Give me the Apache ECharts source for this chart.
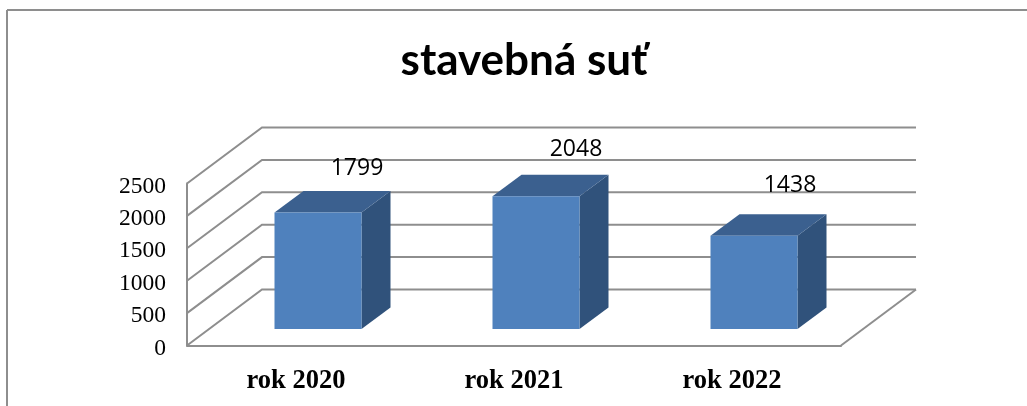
<!DOCTYPE html>
<html><head><meta charset="utf-8">
<style>html,body{margin:0;padding:0;background:#fff}#c{width:1027px;height:406px}</style>
<script src="https://cdn.jsdelivr.net/npm/echarts@6/dist/echarts.min.js"></script>
</head><body><div id="c"></div>
<script>
var titleText = 'stavebná suť';
var categories = ['rok 2020', 'rok 2021', 'rok 2022'];
var values = [1799, 2048, 1438];
var yTicks = [0, 500, 1000, 1500, 2000, 2500];

// label nudges relative to the bar's top front centre (manual placement in the source)
var labelNudge = [[39, -44], [40, -47], [36, -50]];
var wallDepth = [75, -56];
var barDepth = [29, -21.5];
var barShift = [22, -16.5];
var barWidthPx = 87;
var gridColor = '#8e8e8e';

var chart = echarts.init(document.getElementById('c'));
function line(pts, w) {
  return { type: 'polyline', shape: { points: pts }, style: { stroke: gridColor, lineWidth: w || 2, fill: null } };
}
function renderWall(params, api) {
  var v = api.value(0);
  var p = api.coord([0, v]);
  var cs = params.coordSys;
  var x0 = cs.x, x1 = cs.x + cs.width;
  var y = p[1];
  var kids = [line([[x0, y], [x0 + wallDepth[0], y + wallDepth[1]], [x1 + wallDepth[0], y + wallDepth[1]]])];
  if (v === 0) {
    kids.push(line([[x1, y], [x1 + wallDepth[0], y + wallDepth[1]]]));
  }
  return { type: 'group', children: kids };
}
function renderBar(params, api) {
  var i = api.value(0);
  var top = api.coord([i, api.value(1)]);
  var base = api.coord([i, 0]);
  var xl = top[0] - barWidthPx / 2 + barShift[0];
  var xr = xl + barWidthPx;
  var yt = top[1] + barShift[1];
  var yb = base[1] + barShift[1];
  var dx = barDepth[0], dy = barDepth[1];
  var n = labelNudge[i];
  return { type: 'group', children: [
    { type: 'polygon', shape: { points: [[xr, yt], [xr + dx, yt + dy], [xr + dx, yb + dy], [xr, yb]] }, style: { fill: '#30527b' } },
    { type: 'polygon', shape: { points: [[xl, yt], [xl + dx, yt + dy], [xr + dx, yt + dy], [xr, yt]] }, style: { fill: '#3b608f' } },
    { type: 'rect', shape: { x: xl, y: yt, width: barWidthPx, height: yb - yt }, style: { fill: '#4f81bd' } },
    { type: 'text', style: { text: String(api.value(1)), x: (xl + xr) / 2 + n[0], y: yt + n[1], align: 'center', verticalAlign: 'middle', fill: '#000', font: '23px "Open Sans"' } }
  ] };
}
chart.setOption({
  animation: false,
  backgroundColor: '#fff',
  title: { text: titleText, left: 519, top: 34, textAlign: 'center', textStyle: { fontFamily: 'Lato', fontWeight: 'bold', fontSize: 44, color: '#000' } },
  grid: { left: 187, top: 183.5, width: 654, height: 162, containLabel: false },
  xAxis: { type: 'category', data: categories, axisTick: { show: false },
    axisLine: { show: true, lineStyle: { color: gridColor, width: 2 } },
    axisLabel: { margin: 22, fontFamily: 'Liberation Serif', fontWeight: 'bold', fontSize: 26.5, color: '#000' } },
  yAxis: { type: 'value', min: 0, max: 2500, interval: 500, splitLine: { show: false }, axisTick: { show: false },
    axisLine: { show: true, lineStyle: { color: gridColor, width: 2 } },
    axisLabel: { margin: 21, formatter: function (v) { return '{a|' + v + '}'; }, fontFamily: 'Liberation Serif', fontSize: 23.5, color: '#000',
      rich: { a: { fontFamily: 'Liberation Serif', fontSize: 23.5, color: '#000', padding: [6, 0, 0, 0] } } } },
  graphic: [
    { type: 'line', shape: { x1: 7, y1: 10, x2: 1027, y2: 10 }, style: { stroke: gridColor, lineWidth: 2 }, silent: true },
    { type: 'line', shape: { x1: 7, y1: 10, x2: 7, y2: 406 }, style: { stroke: gridColor, lineWidth: 2 }, silent: true }
  ],
  series: [
    { type: 'custom', coordinateSystem: 'cartesian2d', z: 1, clip: false, renderItem: renderWall, encode: { y: 0 }, data: yTicks.map(function (t) { return [t]; }), silent: true },
    { type: 'custom', coordinateSystem: 'cartesian2d', z: 3, clip: false, renderItem: renderBar, encode: { x: 0, y: 1 }, data: values.map(function (v, i) { return [i, v]; }), silent: true }
  ]
});
</script></body></html>
